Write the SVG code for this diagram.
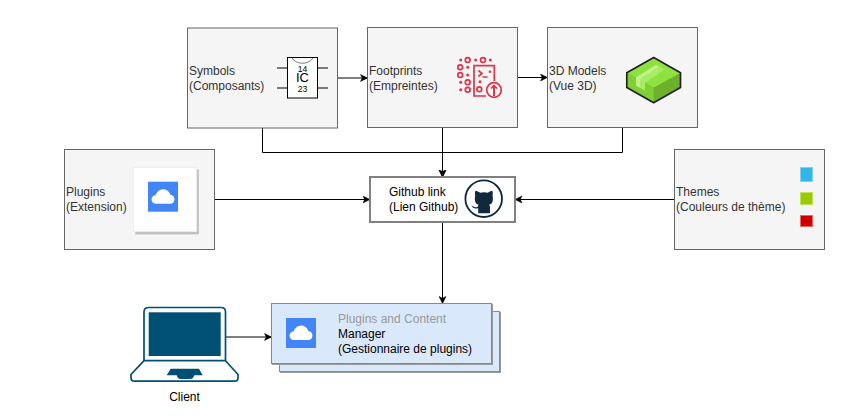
<svg xmlns="http://www.w3.org/2000/svg" width="860" height="418" viewBox="0 0 860 418">
<style>
text{font-family:"Liberation Sans",Arial,sans-serif;font-size:12px;fill:#333}
text.k{fill:#000}
.box{fill:#f5f5f5;stroke:#666;stroke-width:1}
.c{fill:none;stroke:#000;stroke-width:1}
.pin{stroke:#000;stroke-width:1;fill:none}
.red{fill:none;stroke:#dd344c;stroke-width:1.700}
.redf{fill:#dd344c}
</style>
<defs>
<marker id="a" markerUnits="userSpaceOnUse" markerWidth="10" markerHeight="10" refX="7.500" refY="4" orient="auto"><path d="M0.500 0.500L7.500 4L0.500 7.500L2.200 4Z" fill="#000" stroke="#000" stroke-width="0.500"/></marker>
<g id="cloud"><rect width="30" height="30" fill="#4285f4"/><path d="M8 22C4.500 22 3.500 19 3.500 17.500C3.500 15.200 5.300 13.600 7.600 13.500C8.500 10.500 11.500 7.500 15.300 7.500C18.800 7.500 21.500 10 22.300 13C25 13.200 26.500 15.400 26.500 17.500C26.500 20 24.700 22 22.300 22Z" fill="#fff"/></g>
</defs>
<g id="connectors">
<path class="c" d="M337.500 78H367.500" marker-end="url(#a)"/>
<path class="c" d="M517.500 77.500H547.500" marker-end="url(#a)"/>
<path class="c" d="M262.500 128V152.500H442.500V177" marker-end="url(#a)"/>
<path class="c" d="M442.500 127.500V177" marker-end="url(#a)"/>
<path class="c" d="M622.500 127.500V152.500H442.500"/>
<path class="c" d="M214.500 199.500H370" marker-end="url(#a)"/>
<path class="c" d="M674.500 199.500H515" marker-end="url(#a)"/>
<path class="c" d="M442.500 222V303.500" marker-end="url(#a)"/>
<path class="c" d="M226 337H271.500" marker-end="url(#a)"/>
</g>
<g id="symbols">
<rect class="box" x="187.500" y="28" width="150" height="100"/>
<text x="189" y="75">Symbols</text><text x="189" y="90">(Composants)</text>
<path class="pin" d="M277 68H287.500M277 88H287.500M317.500 68H328M317.500 88H328"/>
<rect x="287.500" y="57.500" width="30" height="40.500" fill="#fff" stroke="#000"/>
<path d="M292 58C296 65 309 65 313 58" fill="none" stroke="#444" stroke-width="0.700"/>
<text class="k" x="302.500" y="71.500" text-anchor="middle" style="font-size:8.500px">14</text>
<text class="k" x="302.500" y="82.300" text-anchor="middle" style="font-size:13px">IC</text>
<text class="k" x="302.500" y="92" text-anchor="middle" style="font-size:8.500px">23</text>
</g>
<g id="footprints">
<rect class="box" x="367.500" y="27.500" width="150" height="100"/>
<text x="369" y="74.500">Footprints</text><text x="369" y="89.500">(Empreintes)</text>
<g class="redf"><circle cx="460.700" cy="60" r="1.500"/><circle cx="475.700" cy="60" r="1.500"/><circle cx="490.300" cy="60" r="1.500"/><circle cx="467.700" cy="67.300" r="1.500"/><circle cx="467.700" cy="75" r="1.500"/><circle cx="460.700" cy="82.300" r="1.500"/><circle cx="460.700" cy="89.700" r="1.500"/><circle cx="480" cy="81.700" r="1.500"/><circle cx="490" cy="71.700" r="1.300"/></g>
<g class="red"><circle cx="467.700" cy="60" r="2.400"/><circle cx="483" cy="60" r="2.400"/><circle cx="460.200" cy="67.300" r="2.400"/><circle cx="460.200" cy="75" r="2.400"/><circle cx="467.700" cy="82.300" r="2.400"/><circle cx="467.700" cy="89.700" r="2.400"/><circle cx="479.300" cy="89.300" r="2.400"/>
<path d="M486 96H474V65.700H494.300V81"/><path d="M478.500 70.500L482 73.500L478.500 76.500M482.500 77H487.500"/>
<circle cx="494" cy="90" r="7.300"/><path d="M494 96V86" stroke-width="2"/><path d="M491 88.500L494 85.500L497 88.500"/></g>
</g>
<g id="models">
<rect class="box" x="547.500" y="27.500" width="150" height="100"/>
<text x="549" y="74.500">3D Models</text><text x="549" y="89.500">(Vue 3D)</text>
<path d="M653.700 57.500L680.500 72.800V87.500L653.700 102.700L626.800 87.500V72.800Z" fill="#6cb02c"/>
<path d="M653.700 57.500L680.500 72.800L653.700 87.800L626.800 72.800Z" fill="#8ee23f"/>
<path d="M626.800 72.800L653.700 87.800V102.700L626.800 87.500Z" fill="#80d035"/>
<path d="M636 77.300L656 65L659.300 66.700L640 79.300V87.700L636 85.700Z" fill="#c0f28c"/>
<path d="M640 79.300L659.300 66.700L665 69.300L645 82.700V90.700L640 87.700Z" fill="#a8ec66"/>
<path d="M653.700 57.500L680.500 72.800V87.500L653.700 102.700L626.800 87.500V72.800Z" fill="none" stroke="#222" stroke-width="1.700" stroke-linejoin="round"/>
</g>
<g id="plugins">
<rect class="box" x="64.500" y="149.500" width="150" height="100"/>
<text x="66" y="196">Plugins</text><text x="66" y="211">(Extension)</text>
<rect x="135.300" y="169.500" width="63.500" height="64.800" fill="#bdbdbd"/>
<rect x="133.300" y="167.300" width="63.500" height="64.500" fill="#fff" stroke="#e6e6e6" stroke-width="0.700"/>
<use href="#cloud" x="148" y="181.700"/>
</g>
<g id="github">
<rect x="370" y="177" width="145" height="45" fill="#fff" stroke="#808080" stroke-width="2"/>
<text class="k" x="389" y="196">Github link</text><text class="k" x="389" y="211">(Lien Github)</text>
<circle cx="483.700" cy="198.700" r="18.300" fill="none" stroke="#10293c" stroke-width="1.800"/>
<path transform="translate(1.700 -0.800)" d="M476.500 214V209C472 209.800 470.500 208 469.800 206C471.500 207 473 209 476 207.500C476 206.800 476.300 206 477 205.500C472.500 205 473 199 473.500 196.500C473 194.800 473.200 192.800 473.800 191.500C475.500 191.500 477 192.500 478.300 193.500C480.500 192.800 484 192.800 486.200 193.500C487.500 192.500 489 191.500 490.500 191.500C491.200 192.800 491.300 194.800 490.800 196.500C491.500 199 491.800 205 487.300 205.500C488 206 488.300 207 488.300 208V214Z" fill="#10293c"/>
</g>
<g id="themes">
<rect class="box" x="674.500" y="149.500" width="150" height="100"/>
<text x="676" y="196">Themes</text><text x="676" y="211">(Couleurs de thème)</text>
<rect x="800.500" y="167.500" width="12" height="14" fill="#33b5e8" stroke="#7fd0ef"/>
<rect x="800.500" y="192.500" width="12" height="12" fill="#9c0" stroke="#c1e05f"/>
<rect x="800.500" y="215.500" width="12" height="11" fill="#c00" stroke="#e66"/>
</g>
<g id="client">
<path d="M149 307.500H221Q225.500 307.500 225.500 312V360.700L238 374.500V378Q238 381.200 234.500 381.200H134.500Q131 381.200 131 378V374.500L144 360.700V312Q144 307.500 149 307.500Z" fill="#fff" stroke="#005073" stroke-width="1.700" stroke-linejoin="round"/>
<path d="M144 360.700H225.500" fill="none" stroke="#005073" stroke-width="1.700"/>
<rect x="148.700" y="312.300" width="72" height="43.700" fill="#005073"/>
<path d="M170.700 368.700H199L202.700 375.300H194.300Q193.500 379 190 379H180.500Q177.500 379 176.700 375.300H166.700Z" fill="#005073"/>
<text class="k" x="184.500" y="401" text-anchor="middle">Client</text>
</g>
<g id="manager">
<rect x="279.500" y="311.500" width="220" height="60" fill="#dae8fc" stroke="#6c8ebf" style="filter:drop-shadow(1px 1px 0.500px #999)"/>
<rect x="271.500" y="303.500" width="220" height="60" fill="#dae8fc" stroke="#6c8ebf" style="filter:drop-shadow(1px 1px 0.500px #999)"/>
<use href="#cloud" x="286" y="318"/>
<text x="338" y="323" style="fill:#999">Plugins and Content</text>
<text class="k" x="338" y="337.500">Manager</text>
<text class="k" x="338" y="352.500">(Gestionnaire de plugins)</text>
</g>
</svg>
